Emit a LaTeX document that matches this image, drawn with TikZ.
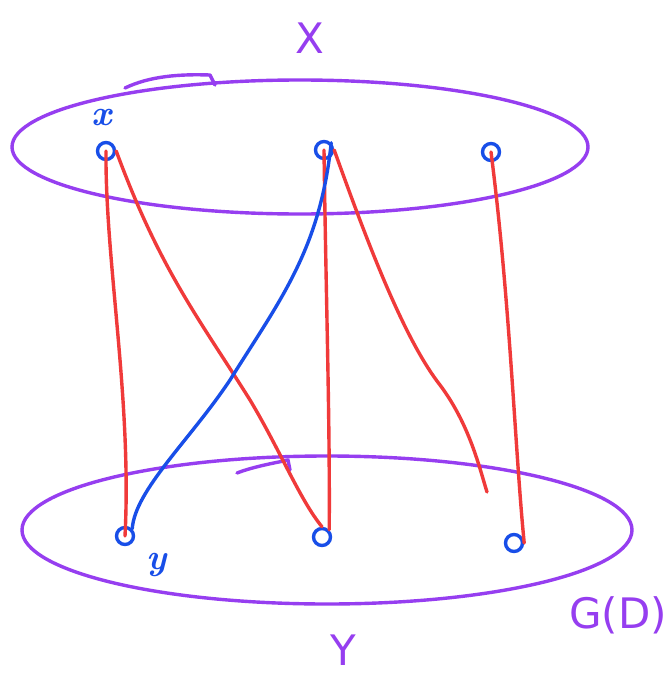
\documentclass[tikz,border=0pt]{standalone}
\usepackage{fontspec}
\setsansfont{DejaVu Sans}
\begin{document}
\begin{tikzpicture}[x=1pt,y=-1pt,line cap=round,line join=round,
  pen/.style={line width=3.4pt},
  setline/.style={pen,draw=setpurple},
  vert/.style={circle,pen,draw=vblue,minimum size=17pt,inner sep=0pt},
  redge/.style={pen,draw=ered},
  bedge/.style={pen,draw=vblue},
  biglab/.style={text=setpurple,font=\sffamily\fontsize{42}{42}\selectfont},
  smalllab/.style={text=vblue,font=\itshape\bfseries\fontsize{36}{36}\selectfont}]
\definecolor{setpurple}{RGB}{150,62,240}
\definecolor{vblue}{RGB}{24,78,232}
\definecolor{ered}{RGB}{240,58,58}
\useasboundingbox (0,0) rectangle (666,677);
\fill[white] (0,0) rectangle (666,677);
% sets
\draw[setline] (300,147) ellipse [x radius=288, y radius=67];
\draw[setline] (125,88) .. controls (150,76) and (180,74) .. (210,75) -- (215,85);
\draw[setline] (327,530) ellipse [x radius=305, y radius=74];
\draw[setline] (237,473) .. controls (255,466) and (280,462) .. (288,460) -- (290,470);
% vertices
\node[vert] (x1) at (106,151) {};
\node[vert] (x2) at (324,150) {};
\node[vert] (x3) at (491,152) {};
\node[vert] (y1) at (125,536) {};
\node[vert] (y2) at (322,537) {};
\node[vert] (y3) at (514,543) {};
\coordinate (end) at (487,492);
% edges
\draw[redge] (x1.center) .. controls (105,260) and (132,400) .. (y1.center);
\draw[redge] (x1.east) .. controls (160,270) and (200,320) .. (250,400) .. controls (280,450) and (300,500) .. (y2.north);
\draw[redge] (x2.center) .. controls (326,300) and (330,420) .. (y2.north east);
\draw[redge] (x2.east) .. controls (370,250) and (405,340) .. (440,385) .. controls (470,425) and (480,470) .. (end);
\draw[redge] (x3.center) .. controls (510,300) and (515,450) .. (y3.east);
\draw[bedge] (x2.north east) .. controls (320,250) and (280,300) .. (230,380) .. controls (190,440) and (135,490) .. (y1.north east);
% labels
\node[biglab] (lX) at (310,38) {X};
\node[biglab] (lY) at (343,650) {Y};
\node[biglab] (lG) at (618,615) {G(D)};
\node[smalllab] (lx) at (102,118) {x};
\node[smalllab] (ly) at (157,565) {y};
\end{tikzpicture}
\end{document}
